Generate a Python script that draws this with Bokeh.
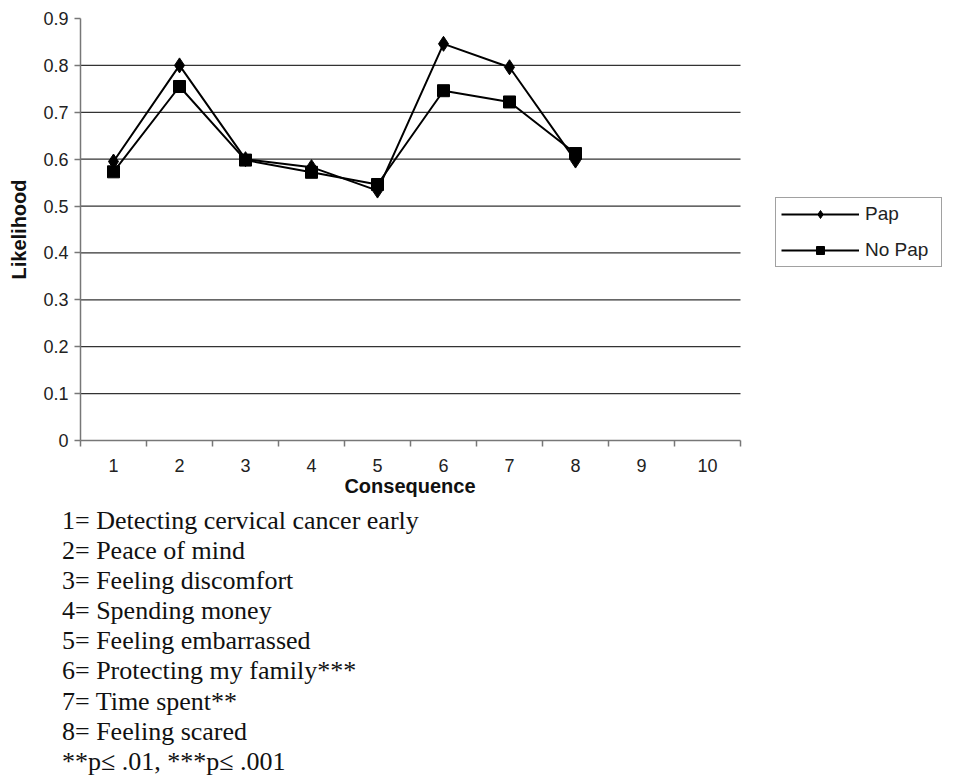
from bokeh.plotting import figure
from bokeh.layouts import column
from bokeh.models import (Range1d, FixedTicker, CustomJSTickFormatter, Legend,
                          LegendItem, Div)
from bokeh.embed import file_html
from bokeh.resources import INLINE

# ---- data ----
consequence = [1, 2, 3, 4, 5, 6, 7, 8]
pap = [0.595, 0.800, 0.600, 0.583, 0.533, 0.846, 0.796, 0.597]
no_pap = [0.573, 0.755, 0.598, 0.572, 0.546, 0.746, 0.722, 0.612]
x_ticks = [1, 2, 3, 4, 5, 6, 7, 8, 9, 10]
x_bounds = [0.5, 1.5, 2.5, 3.5, 4.5, 5.5, 6.5, 7.5, 8.5, 9.5, 10.5]
y_ticks = [0, 0.1, 0.2, 0.3, 0.4, 0.5, 0.6, 0.7, 0.8, 0.9]
y_grid = [0.1, 0.2, 0.3, 0.4, 0.5, 0.6, 0.7, 0.8]
x_title = "Consequence"
y_title = "Likelihood"
series_names = ["Pap", "No Pap"]
footnotes = [
    "1= Detecting cervical cancer early",
    "2= Peace of mind",
    "3= Feeling discomfort",
    "4= Spending money",
    "5= Feeling embarrassed",
    "6= Protecting my family***",
    "7= Time spent**",
    "8= Feeling scared",
    "**p\u2264 .01, ***p\u2264 .001",
]

SANS = "Liberation Sans"
SERIF = "Liberation Serif"
AXIS_COL = "#777777"

# layout sizes (pixels)
W, H = 956, 476
LEFT, RIGHT, TOP, BOTTOM = 80, 10, 18, 36
PX_PER_CAT = 66.0
frame_w = W - LEFT - RIGHT
x_start = x_bounds[0]
x_end = x_start + frame_w / PX_PER_CAT   # extra room on the right holds the legend
cat_w = int(PX_PER_CAT * (x_bounds[-1] - x_bounds[0]))

p = figure(width=W, height=H,
           x_range=Range1d(x_start, x_end), y_range=Range1d(0, 0.9),
           output_backend="svg", toolbar_location=None,
           min_border_left=LEFT, min_border_right=RIGHT,
           min_border_top=TOP, min_border_bottom=BOTTOM)
p.outline_line_color = None
p.background_fill_color = "white"
p.border_fill_color = "white"

# grid lines only across the category area
p.xgrid.visible = False
p.ygrid.visible = False
p.segment(x0=[x_bounds[0]] * len(y_grid), y0=y_grid,
          x1=[x_bounds[-1]] * len(y_grid), y1=y_grid,
          line_color="#333333", line_width=1.3)

# x axis
xa = p.xaxis[0]
xa.bounds = (x_bounds[0], x_bounds[-1])
xa.ticker = FixedTicker(ticks=x_ticks, minor_ticks=x_bounds)
xa.major_tick_in = 0
xa.major_tick_out = 0
xa.minor_tick_in = 0
xa.minor_tick_out = 6
xa.minor_tick_line_color = AXIS_COL
xa.minor_tick_line_width = 1.5
xa.axis_line_color = AXIS_COL
xa.axis_line_width = 1.5
xa.major_label_text_font = SANS
xa.major_label_text_font_size = "18px"
xa.major_label_text_color = "#222222"
xa.major_label_standoff = 12

# y axis
ya = p.yaxis[0]
ya.ticker = FixedTicker(ticks=y_ticks)
ya.formatter = CustomJSTickFormatter(code="return tick === 0 ? '0' : tick.toFixed(1);")
ya.major_tick_in = 0
ya.major_tick_out = 6
ya.minor_tick_line_color = None
ya.major_tick_line_color = AXIS_COL
ya.major_tick_line_width = 1.5
ya.axis_line_color = AXIS_COL
ya.axis_line_width = 1.5
ya.major_label_text_font = SANS
ya.major_label_text_font_size = "18px"
ya.major_label_text_color = "#222222"
ya.major_label_standoff = 6
ya.axis_label = y_title
ya.axis_label_text_font = SANS
ya.axis_label_text_font_style = "bold"
ya.axis_label_text_font_size = "20px"
ya.axis_label_text_color = "#111111"
ya.axis_label_standoff = 10

# series
l1 = p.line(consequence, pap, line_color="black", line_width=2)
m1 = p.scatter(consequence, pap, marker="diamond", size=15,
               fill_color="black", line_color="black")
l2 = p.line(consequence, no_pap, line_color="black", line_width=2)
m2 = p.scatter(consequence, no_pap, marker="square", size=12,
               fill_color="black", line_color="black")

legend = Legend(items=[LegendItem(label=series_names[0], renderers=[l1, m1]),
                       LegendItem(label=series_names[1], renderers=[l2, m2])],
                location=(695, 173), margin=0, padding=5, spacing=14,
                glyph_width=78, glyph_height=20, label_height=20,
                label_width=71, label_standoff=6,
                label_text_font=SANS, label_text_font_size="19px",
                label_text_color="#222222",
                border_line_color="#444444", border_line_width=1.2,
                background_fill_color="white")
p.add_layout(legend, "center")

# x-axis title (centred on the category area) and footnotes below the chart
lines_html = "".join(f"<div>{t.replace('<', '&lt;')}</div>" for t in footnotes)
note = Div(text=(f"<div style=\"margin-left:{LEFT}px;width:{cat_w}px;text-align:center;"
                 f"font-family:'{SANS}';font-weight:bold;font-size:20px;"
                 f"line-height:20px;height:20px;color:#111111;\">{x_title}</div>"
                 f"<div style=\"margin-top:10px;font-family:'{SERIF}';font-size:26px;"
                 f"line-height:30.1px;color:#111111;padding-left:62px;"
                 f"white-space:nowrap;\">{lines_html}</div>"),
           width=W, height=303, margin=0)

layout = column(p, note, spacing=0)
open("out.html", "w").write(file_html(layout, INLINE))
